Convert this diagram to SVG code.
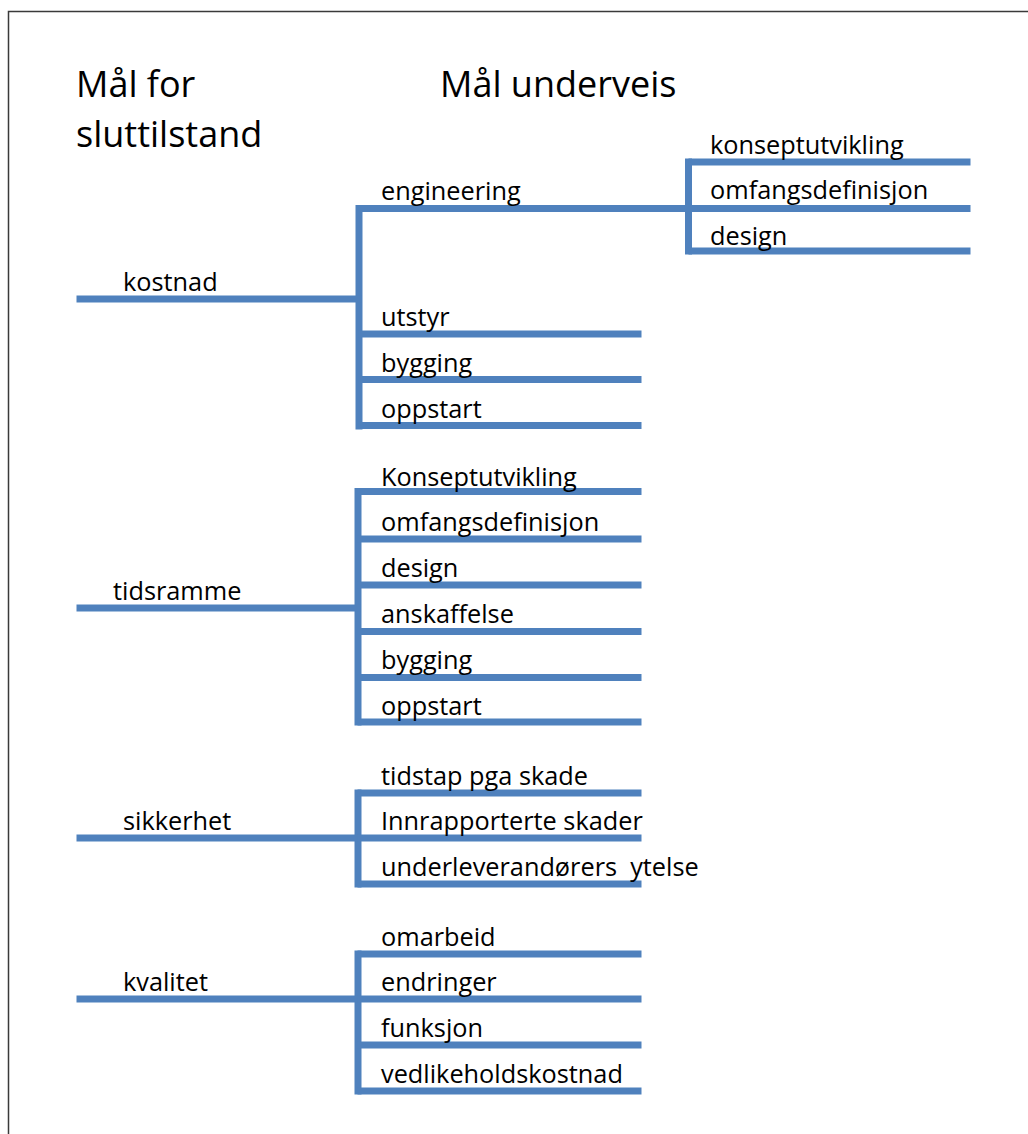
<svg xmlns="http://www.w3.org/2000/svg" width="1028" height="1134" viewBox="0 0 1028 1134">
<style>
.t{font-family:"Open Sans","Liberation Sans",sans-serif;fill:#000}
.h{font-size:36px}
.l{font-size:25.3px}
.ln{stroke:#4F81BD;stroke-width:7;fill:none;stroke-linecap:square}
</style>
<rect x="0" y="0" width="1028" height="1134" fill="#fff"/>
<path d="M8.5 1140 V11.5 H1040" fill="none" stroke="#3a3a3a" stroke-width="1.5"/>
<g id="titles">
<text class="t h" x="76" y="97">Mål for</text>
<text class="t h" x="76" y="147">sluttilstand</text>
<text class="t h" x="440" y="97">Mål underveis</text>
</g>
<g id="connectors" class="ln">
<line x1="359" y1="208.5" x2="359" y2="426"/>
<line x1="688.5" y1="162" x2="688.5" y2="251"/>
<line x1="358" y1="491.5" x2="358" y2="722"/>
<line x1="358" y1="793" x2="358" y2="884"/>
<line x1="358" y1="954" x2="358" y2="1091"/>
</g>
<g id="kostnad"><line class="ln" x1="80" y1="299" x2="358" y2="299"/><text class="t l" x="123" y="291">kostnad</text></g>
<g id="engineering"><line class="ln" x1="362" y1="208.5" x2="688" y2="208.5"/><text class="t l" x="381" y="200">engineering</text></g>
<g id="konseptutvikling-1"><line class="ln" x1="692" y1="162" x2="967" y2="162"/><text class="t l" x="710" y="154">konseptutvikling</text></g>
<g id="omfangsdefinisjon-1"><line class="ln" x1="692" y1="208.5" x2="967" y2="208.5"/><text class="t l" x="710" y="199">omfangsdefinisjon</text></g>
<g id="design-1"><line class="ln" x1="692" y1="251" x2="967" y2="251"/><text class="t l" x="710" y="245">design</text></g>
<g id="utstyr"><line class="ln" x1="362" y1="334" x2="638" y2="334"/><text class="t l" x="381" y="326">utstyr</text></g>
<g id="bygging-1"><line class="ln" x1="362" y1="379.5" x2="638" y2="379.5"/><text class="t l" x="381" y="372">bygging</text></g>
<g id="oppstart-1"><line class="ln" x1="362" y1="425.5" x2="638" y2="425.5"/><text class="t l" x="381" y="418">oppstart</text></g>

<g id="tidsramme"><line class="ln" x1="80" y1="608" x2="357" y2="608"/><text class="t l" x="113" y="600">tidsramme</text></g>
<g id="konseptutvikling-2"><line class="ln" x1="361" y1="491.5" x2="638" y2="491.5"/><text class="t l" x="381" y="486">Konseptutvikling</text></g>
<g id="omfangsdefinisjon-2"><line class="ln" x1="361" y1="539" x2="638" y2="539"/><text class="t l" x="381" y="531">omfangsdefinisjon</text></g>
<g id="design-2"><line class="ln" x1="361" y1="585" x2="638" y2="585"/><text class="t l" x="381" y="577">design</text></g>
<g id="anskaffelse"><line class="ln" x1="361" y1="631.5" x2="638" y2="631.5"/><text class="t l" x="381" y="623">anskaffelse</text></g>
<g id="bygging-2"><line class="ln" x1="361" y1="677.5" x2="638" y2="677.5"/><text class="t l" x="381" y="669">bygging</text></g>
<g id="oppstart-2"><line class="ln" x1="361" y1="722" x2="638" y2="722"/><text class="t l" x="381" y="715">oppstart</text></g>

<g id="sikkerhet"><line class="ln" x1="80" y1="838" x2="357" y2="838"/><text class="t l" x="123" y="830">sikkerhet</text></g>
<g id="tidstap"><line class="ln" x1="361" y1="793" x2="638" y2="793"/><text class="t l" x="381" y="785">tidstap pga skade</text></g>
<g id="innrapporterte"><line class="ln" x1="361" y1="838" x2="638" y2="838"/><text class="t l" x="381" y="830">Innrapporterte skader</text></g>
<g id="underleverandorer"><line class="ln" x1="361" y1="884" x2="638" y2="884"/><text class="t l" x="381" y="876" xml:space="preserve">underleverandørers  ytelse</text></g>

<g id="kvalitet"><line class="ln" x1="80" y1="999" x2="357" y2="999"/><text class="t l" x="123" y="991">kvalitet</text></g>
<g id="omarbeid"><line class="ln" x1="361" y1="954" x2="638" y2="954"/><text class="t l" x="381" y="946">omarbeid</text></g>
<g id="endringer"><line class="ln" x1="361" y1="999" x2="638" y2="999"/><text class="t l" x="381" y="991">endringer</text></g>
<g id="funksjon"><line class="ln" x1="361" y1="1045" x2="638" y2="1045"/><text class="t l" x="381" y="1037">funksjon</text></g>
<g id="vedlikeholdskostnad"><line class="ln" x1="361" y1="1091" x2="638" y2="1091"/><text class="t l" x="381" y="1083">vedlikeholdskostnad</text></g>
</svg>
